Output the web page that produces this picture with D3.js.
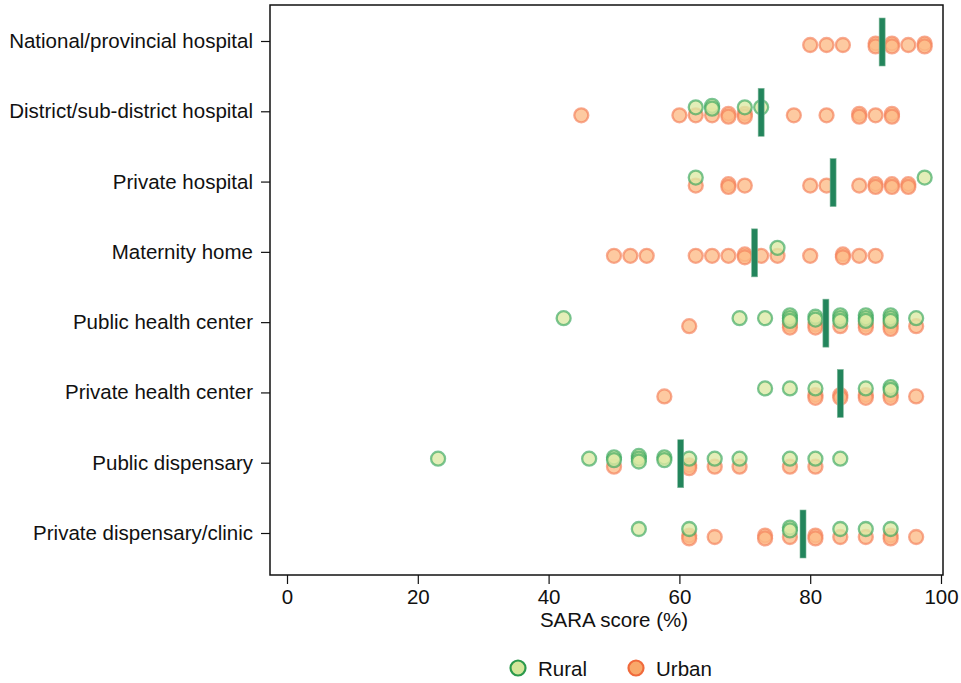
<!DOCTYPE html>
<html><head><meta charset="utf-8">
<script src="https://cdn.jsdelivr.net/npm/d3@7"></script>
<style>body{margin:0;background:#fff;} text{font-family:"Liberation Sans",Arial,Helvetica,sans-serif;}</style>
</head><body>
<svg id="chart" width="961" height="683"></svg>
<script>
const categories = ["National/provincial hospital","District/sub-district hospital","Private hospital","Maternity home","Public health center","Private health center","Public dispensary","Private dispensary/clinic"];
const groups = ["Rural","Urban"];
const xTicks = [0,20,40,60,80,100];
// SARA scores per facility, by category
const ruralScores = [
  [],
  [62.5,65,65,70,72.5],
  [62.5,97.5],
  [75],
  [42.3,69.2,73.1,76.9,76.9,76.9,80.8,80.8,84.6,84.6,84.6,88.5,88.5,88.5,92.3,92.3,92.3,96.2],
  [73.1,76.9,80.8,88.5,92.3,92.3],
  [23.1,46.2,50,50,53.8,53.8,53.8,57.7,57.7,61.5,65.4,69.2,76.9,80.8,84.6],
  [53.8,61.5,76.9,76.9,84.6,88.5,92.3]
];
const urbanScores = [
  [80,82.5,85,90,90,92.5,92.5,95,97.5,97.5],
  [45,60,62.5,65,67.5,67.5,70,70,77.5,82.5,87.5,87.5,90,92.5,92.5],
  [62.5,67.5,67.5,70,80,82.5,87.5,90,90,92.5,92.5,95,95],
  [50,52.5,55,62.5,65,67.5,70,70,72.5,75,80,85,85,87.5,90],
  [61.5,76.9,76.9,80.8,80.8,84.6,88.5,88.5,92.3,92.3,92.3,96.2],
  [57.7,80.8,80.8,84.6,84.6,88.5,88.5,92.3,92.3,96.2],
  [50,61.5,61.5,65.4,69.2,76.9,80.8],
  [61.5,61.5,65.4,73.1,73.1,76.9,80.8,80.8,84.6,88.5,92.3,92.3,96.2]
];
const meanScores = [91.0,72.5,83.5,71.5,82.4,84.6,60.2,78.9];

const svg = d3.select("#chart");
const x = d3.scaleLinear().domain([0,100]).range([287,941]);
const y = d3.scalePoint().domain(categories).range([41,533]);
const boxL = 270, boxR = 943, boxT = 5, boxB = 575;
const FS = 20.5;

const style = {
  Rural:{fill:"#dce9a4", stroke:"#35a65c", lfill:"#d4e69a", lstroke:"#2c9a4c", base:-4},
  Urban:{fill:"#fdbb86", stroke:"#f47e58", lfill:"#f9a86a", lstroke:"#f06a3c", base:4}
};

// build point list
const pts = [];
categories.forEach((c,i)=>{
  [["Rural",ruralScores[i]],["Urban",urbanScores[i]]].forEach(([g,arr])=>{
    const counts = d3.rollup(arr, v=>v.length, d=>d);
    const seen = new Map();
    arr.forEach(v=>{
      const n = counts.get(v); const k = seen.get(v)||0; seen.set(v,k+1);
      pts.push({cat:c, group:g, value:v, dy: style[g].base + (k-(n-1)/2)*2.8});
    });
  });
});

// box
svg.append("rect").attr("x",boxL).attr("y",boxT).attr("width",boxR-boxL).attr("height",boxB-boxT)
  .attr("fill","none").attr("stroke","#111").attr("stroke-width",1.5);

// x axis
const xa = svg.append("g").attr("transform",`translate(0,${boxB})`)
  .call(d3.axisBottom(x).tickValues(xTicks).tickSize(9).tickPadding(5));
xa.select(".domain").remove();
xa.selectAll("line").attr("stroke","#111").attr("stroke-width",1.2);
xa.selectAll("text").attr("font-size",FS).attr("fill","#111");
svg.append("text").attr("x",x(50)).attr("y",627).attr("text-anchor","middle")
  .attr("font-size",FS).attr("fill","#111").text("SARA score (%)");

// y axis
const ya = svg.append("g").attr("transform",`translate(${boxL},0)`)
  .call(d3.axisLeft(y).tickSize(9).tickPadding(8));
ya.select(".domain").remove();
ya.selectAll("line").attr("stroke","#111").attr("stroke-width",1.2);
ya.selectAll("text").attr("font-size",FS).attr("fill","#111");

// points
const pg = svg.append("g");
pg.selectAll("circle").data(pts.filter(d=>d.group==="Urban").concat(pts.filter(d=>d.group==="Rural")))
  .join("circle")
  .attr("cx",d=>x(d.value)).attr("cy",d=>y(d.cat)+d.dy).attr("r",7)
  .attr("fill",d=>style[d.group].fill).attr("fill-opacity",0.78)
  .attr("stroke",d=>style[d.group].stroke).attr("stroke-opacity",0.65).attr("stroke-width",2.3);

// mean bars
svg.append("g").selectAll("rect").data(categories).join("rect")
  .attr("x",(c,i)=>x(meanScores[i])-3).attr("y",c=>y(c)+1-24)
  .attr("width",6).attr("height",48)
  .attr("fill","#23855c").attr("stroke","#7fb89a").attr("stroke-width",0.6);

// legend
const lg = svg.append("g");
const items = [{g:"Rural",cx:518,tx:538},{g:"Urban",cx:636,tx:656}];
items.forEach(it=>{
  lg.append("circle").attr("cx",it.cx).attr("cy",668).attr("r",7.5)
    .attr("fill",style[it.g].lfill).attr("stroke",style[it.g].lstroke).attr("stroke-width",2.2);
  lg.append("text").attr("x",it.tx).attr("y",675.5).attr("font-size",FS).attr("fill","#111").text(it.g);
});
</script>
</body></html>
